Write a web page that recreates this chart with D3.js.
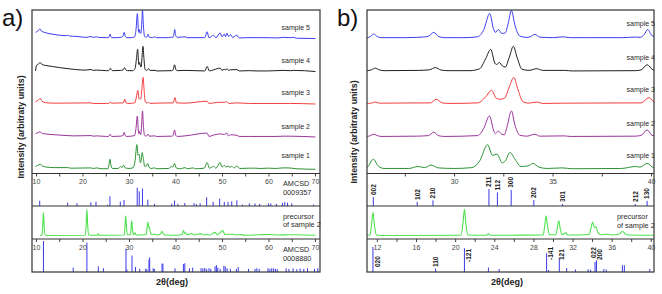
<!DOCTYPE html>
<html><head><meta charset="utf-8">
<script src="https://cdn.jsdelivr.net/npm/d3@7"></script>
<style>
body{margin:0;background:#fff}
svg{display:block}
text{font-family:"Liberation Sans",Arial,sans-serif}
</style>
</head><body>
<svg id="c" width="662" height="294"></svg>
<script>
// ---------------- DATA ----------------
const sampleNames = ["sample 1", "sample 2", "sample 3", "sample 4", "sample 5"];

// [2theta, intensity]
const sample1 = [[9.9,0.1],[10.4,0.14],[10.86,0.18],[11.4,0.12],[12.2,0.08],[14,0.06],[16.9,0.06],[17.5,0.04],[21.84,0.05],[22.3,0.03],[23.07,0.05],[24,0.02],
 [25.5,0.02],[25.65,0.12],[25.9,0.36],[26.15,0.12],[26.45,0.03],[27.7,0.03],[28.18,0.1],[28.5,0.06],[28.83,0.15],[29.2,0.05],[30.0,0.03],[30.9,0.06],[31.3,0.3],[31.7,0.88],[31.95,0.5],[32.18,0.54],[32.45,0.23],[32.6,0.3],[32.84,0.6],[33.1,0.35],[33.4,0.1],[33.75,0.12],[34.0,0.21],[34.3,0.08],[34.7,0.03],[35.5,0.05],[36.0,0.02],[38.5,0.03],[39.2,0.1],[39.45,0.08],[39.8,0.21],[40.15,0.05],
 [41,0.02],[42.05,0.06],[42.5,0.02],[43.8,0.05],[44.3,0.02],[46.2,0.04],[46.8,0.24],[47.3,0.04],[48.2,0.1],[48.7,0.04],[49.6,0.24],[50.0,0.08],[50.5,0.14],[50.9,0.08],[51.3,0.12],[51.7,0.07],[52.1,0.11],[52.6,0.05],[53.2,0.12],[53.8,0.03],[55.9,0.04],[57.2,0.04],[58.2,0.03],[60.0,0.04],[61.7,0.03],[63.0,0.05],[64.2,0.05],[65,0.04],[66,0.02],[70.1,0.0]];

const sample2 = [[9.9,0.12],[10.4,0.15],[10.86,0.19],[11.3,0.13],[12,0.11],[14,0.08],[16.9,0.05],[18,0.04],[21.84,0.05],[22.3,0.03],[23.07,0.04],[25.2,0.02],
 [25.6,0.02],[25.75,0.05],[25.92,0.1],[26.1,0.05],[26.3,0.02],[28.1,0.03],[28.7,0.05],[28.97,0.17],[29.2,0.05],[29.5,0.02],[31.2,0.05],[31.5,0.3],[31.8,0.75],[32.0,0.25],[32.1,0.12],[32.25,0.21],[32.42,0.1],[32.55,0.08],[32.7,0.4],[32.91,0.93],[33.1,0.4],[33.35,0.06],[33.7,0.03],[34.1,0.1],[34.35,0.03],[35.6,0.04],[35.9,0.02],[39.2,0.03],[39.5,0.06],[39.8,0.25],[40.05,0.06],[40.4,0.02],
 [42.05,0.04],[46.8,0.14],[47.2,0.02],[48.2,0.07],[49.6,0.11],[50.5,0.09],[51.05,0.14],[51.4,0.04],[51.8,0.08],[53.2,0.06],[53.7,0.02],[55.9,0.02],[61.8,0.02],[63.2,0.03],[64.4,0.03],[70.1,0.0]];

const sample3 = [[9.9,0.08],[10.5,0.14],[10.9,0.2],[11.3,0.1],[12,0.05],[14,0.03],[21.84,0.04],[22.3,0.02],[25.2,0.02],
 [25.6,0.02],[25.85,0.04],[26.0,0.07],[26.2,0.03],[28.8,0.04],[29.1,0.17],[29.4,0.04],[29.8,0.02],[31.2,0.04],[31.6,0.25],[31.9,0.49],[32.15,0.2],[32.35,0.17],[32.55,0.2],[32.8,0.6],[33.03,0.95],[33.25,0.5],[33.5,0.08],[33.8,0.03],[34.2,0.07],[34.5,0.02],[35.6,0.03],[39.5,0.04],[39.9,0.23],[40.2,0.04],
 [42.05,0.03],[46.8,0.1],[47.2,0.02],[48.2,0.04],[49.6,0.06],[50.5,0.06],[51.05,0.08],[51.5,0.02],[53.2,0.04],[55.9,0.02],[64.5,0.02],[70.1,0.0]];

const sample4 = [[9.9,0.02],[10.1,0.22],[10.5,0.26],[10.86,0.32],[11.3,0.25],[12,0.22],[13.5,0.18],[15,0.14],[16.9,0.1],[18.5,0.07],[20.5,0.05],[21.84,0.07],[22.3,0.04],[23.07,0.05],[25.2,0.03],
 [25.6,0.03],[25.8,0.06],[26.0,0.12],[26.2,0.06],[26.45,0.03],[28.2,0.04],[28.75,0.06],[29.05,0.14],[29.35,0.05],[29.7,0.03],[30.8,0.03],[31.3,0.1],[31.6,0.45],[31.86,0.79],[32.07,0.3],[32.15,0.25],[32.3,0.32],[32.45,0.2],[32.6,0.16],[32.8,0.5],[33.01,0.9],[33.2,0.5],[33.45,0.08],[33.8,0.04],[34.2,0.1],[34.5,0.04],[35.6,0.04],[36.0,0.02],[39.2,0.03],[39.5,0.06],[39.8,0.24],[40.1,0.06],[40.4,0.03],
 [42.05,0.04],[46.3,0.02],[46.8,0.18],[47.3,0.02],[48.2,0.06],[49.6,0.12],[50.0,0.04],[50.5,0.08],[50.8,0.05],[51.05,0.1],[51.4,0.04],[51.8,0.06],[53.2,0.07],[53.7,0.02],[55.9,0.03],[57.5,0.02],[60,0.02],[63.2,0.04],[64.7,0.03],[65.4,0.04],[70.1,0.0]];

const sample5 = [[9.9,0.22],[10.4,0.27],[10.86,0.34],[11.2,0.26],[11.8,0.22],[13,0.17],[14.5,0.13],[16.6,0.1],[16.9,0.12],[17.2,0.09],[19,0.07],[20.9,0.04],[21.84,0.07],[22.3,0.04],[23.07,0.06],[23.5,0.04],[25.2,0.03],
 [25.6,0.03],[25.75,0.07],[25.92,0.16],[26.1,0.07],[26.3,0.03],[27.5,0.03],[28.1,0.04],[28.4,0.05],[28.7,0.08],[28.97,0.22],[29.2,0.08],[29.5,0.03],[30.5,0.03],[31.2,0.06],[31.5,0.3],[31.81,0.89],[32.0,0.35],[32.1,0.22],[32.25,0.32],[32.42,0.18],[32.6,0.2],[32.75,0.55],[32.91,1.0],[33.1,0.45],[33.35,0.08],[33.7,0.04],[33.9,0.07],[34.1,0.15],[34.35,0.05],[35.0,0.03],[35.55,0.06],[35.9,0.03],[37,0.03],[38.5,0.03],[39.2,0.05],[39.45,0.04],[39.65,0.14],[39.83,0.32],[40.05,0.1],[40.4,0.04],
 [42.08,0.06],[42.5,0.03],[46.3,0.03],[46.8,0.24],[47.2,0.03],[48.2,0.11],[48.7,0.03],[49.6,0.2],[50.0,0.06],[50.5,0.16],[50.75,0.07],[51.05,0.19],[51.4,0.07],[51.8,0.14],[52.3,0.04],[53.2,0.12],[53.7,0.02],[55.4,0.03],[57.5,0.03],[59.7,0.03],[61.8,0.02],[63.2,0.04],[64.7,0.03],[65.4,0.04],[66,0.01],[70.1,0.0]];

const precursor = [[10.9,0.0],[11.3,0.02],[11.45,0.4],[11.6,0.87],[11.75,0.4],[11.95,0.02],[13,0.0],[20.6,0.01],[20.8,0.45],[20.95,1.0],[21.1,0.45],[21.3,0.02],[23.2,0.01],[23.4,0.06],[23.6,0.01],[29.0,0.02],[29.15,0.35],[29.3,0.75],[29.45,0.35],[29.65,0.03],[30.3,0.03],[30.45,0.3],[30.6,0.56],[30.75,0.25],[30.95,0.03],[31.3,0.1],[31.5,0.02],[33.7,0.04],[33.9,0.3],[34.05,0.51],[34.25,0.3],[34.4,0.33],[34.6,0.1],[34.9,0.03],[35.5,0.05],[36,0.02],[36.8,0.06],[37.1,0.16],[37.4,0.06],[37.8,0.02],[40.3,0.01],
 [41.5,0.05],[41.7,0.19],[42.0,0.08],[42.2,0.1],[42.5,0.03],[43.5,0.07],[44,0.02],[45.5,0.07],[46,0.02],[46.8,0.04],[47.5,0.02],[48.5,0.12],[49,0.03],[50.2,0.19],[50.6,0.04],[52.5,0.05],[53,0.02],[53.9,0.04],[55,0.01],[58,0.03],[60.6,0.04],[62,0.02],[64.5,0.03],[66,0.03],[70.1,0.01]];

// AMCSD 0009357 reference sticks [2theta, relative intensity %]
const hapSticks = [[10.8,29],[16.8,18],[18.8,15],[21.8,20],[22.9,24],[25.4,7],[25.9,53],[28.13,24],[28.93,33],[31.77,100],[32.2,80],[32.9,95],[34.05,35],[35.5,12],[39.2,12],[39.8,30],[40.5,12],[42.0,16],[44.0,16],[44.5,10],[45.3,15],[46.7,48],[48.1,22],[49.5,40],[50.5,22],[51.3,22],[52.1,26],[53.2,31],[54.4,8],[55.9,14],[57.1,14],[58.1,11],[60.0,14],[60.5,14],[61.7,11],[63.0,16],[63.5,22],[64.1,18],[65.0,14],[69.7,8]];
const hapHkl = [["002",25.9],["102",28.13],["210",28.93],["211",31.77],["112",32.2],["300",32.9],["202",34.05],["301",35.5],["212",39.2],["130",39.8]];

// AMCSD 0008880 reference sticks
const brushSticks = [[11.6,100],[18.0,14],[20.95,95],[23.4,18],[24.5,12],[29.35,75],[29.55,8],[30.65,53],[31.4,16],[32.3,10],[33.6,11],[33.85,9],[34.3,40],[34.45,47],[35.2,12],[35.45,10],[37.1,27],[37.3,27],[39.9,12],[41.7,26],[42.0,28],[43.0,12],[43.7,14],[45.5,12],[45.9,12],[46.3,13],[46.7,10],[47.2,12],[47.6,10],[48.5,18],[48.8,22],[49.1,14],[49.6,10],[50.4,20],[50.7,18],[51.1,12],[51.8,10],[53.1,10],[53.5,16],[55.7,10],[57.1,10],[57.5,12],[58.0,10],[59.9,12],[60.3,10],[60.7,12],[61.1,12],[61.5,10],[61.9,9],[63.8,12],[64.4,10],[65.3,12],[66.1,9],[66.8,11],[67.6,10],[68.4,12],[69.9,10],[70.6,12]];
const brushHkl = [["020",11.6],["110",18.0],["-121",20.95],["-141",29.35],["121",30.65],["022",34.3],["200",34.45]];

const ticksA = [10,15,20,25,30,35,40,45,50,55,60,65,70];
const ticksBtop = [27.5,30,32.5,35,37.5,40];
const ticksBbot = [12,14,16,18,20,22,24,26,28,30,32,34,36,38,40];

// ---------------- LAYOUT ----------------
const svg = d3.select("#c");
const colors = ["#2b9332", "#9a339a", "#f23d3d", "#1e1e1e", "#3c3cf2"];
const precColor = "#4fe24f", stickColor = "#3a3ae6", frameColor = "#333";
const rows = {top: 10, s: 173.5, h: 206, p: 239, bot: 272};
const baselines = [169.3, 137, 104, 71.5, 38.5];
const bandH = 28;

function drawPanel(opt) {
  const g = svg.append("g");
  const {x0, x1} = opt;
  const xs = d3.scaleLinear().domain(opt.domS).range([x0, x1]);
  const xp = d3.scaleLinear().domain(opt.domP).range([x0, x1]);
  const id = "clip" + opt.key;
  const defs = svg.append("defs");
  defs.append("clipPath").attr("id", id + "s").append("rect").attr("x", x0).attr("y", rows.top).attr("width", x1 - x0).attr("height", rows.s - rows.top);
  defs.append("clipPath").attr("id", id + "p").append("rect").attr("x", x0).attr("y", rows.h).attr("width", x1 - x0).attr("height", rows.p - rows.h);
  defs.append("clipPath").attr("id", id + "h").append("rect").attr("x", x0).attr("y", rows.s).attr("width", x1 - x0).attr("height", rows.h - rows.s);
  defs.append("clipPath").attr("id", id + "b").append("rect").attr("x", x0).attr("y", rows.p).attr("width", x1 - x0).attr("height", rows.bot - rows.p);

  // samples
  const samples = [sample1, sample2, sample3, sample4, sample5];
  const gs = g.append("g").attr("clip-path", `url(#${id}s)`);
  samples.forEach((d, i) => {
    const y = d3.scaleLinear().domain([0, 1]).range([baselines[i], baselines[i] - bandH]);
    const line = d3.line().x(p => xs(p[0])).y(p => y(p[1])).curve(d3.curveMonotoneX);
    gs.append("path").attr("d", line(d)).attr("fill", "none").attr("stroke", colors[i]).attr("stroke-width", 1);
  });
  sampleNames.forEach((n, i) => {
    g.append("text").attr("x", opt.labX).attr("y", opt.labY[i]).attr("dy", "0.35em")
      .attr("text-anchor", "end").attr("font-size", 7).attr("fill", "#2a2a2a").text(n);
  });

  // hap sticks
  const yh = d3.scaleLinear().domain([0, 100]).range([rows.h, rows.h - opt.hapH]);
  const gh = g.append("g").attr("clip-path", `url(#${id}h)`);
  gh.selectAll("line").data(hapSticks).join("line")
    .attr("x1", d => xs(d[0])).attr("x2", d => xs(d[0]))
    .attr("y1", rows.h).attr("y2", d => yh(d[1]))
    .attr("stroke", stickColor).attr("stroke-width", 1);

  // precursor
  const yp = d3.scaleLinear().domain([0, 1]).range([235.5, 209.2]);
  const lp = d3.line().x(p => xp(p[0])).y(p => yp(p[1])).curve(d3.curveMonotoneX);
  g.append("g").attr("clip-path", `url(#${id}p)`).append("path").attr("d", lp(precursor))
    .attr("fill", "none").attr("stroke", precColor).attr("stroke-width", 1.1);

  // brushite sticks
  const yb = d3.scaleLinear().domain([0, 100]).range([rows.bot, rows.bot - opt.brH]);
  g.append("g").attr("clip-path", `url(#${id}b)`).selectAll("line").data(brushSticks).join("line")
    .attr("x1", d => xp(d[0])).attr("x2", d => xp(d[0]))
    .attr("y1", rows.bot).attr("y2", d => yb(d[1]))
    .attr("stroke", stickColor).attr("stroke-width", 1);

  // axes (inward ticks at top of stick panels)
  const ax1 = d3.axisBottom(xs).tickValues(opt.ticksS).tickSize(3).tickPadding(3)
    .tickFormat(v => opt.labS(v) ? d3.format("~g")(v) : "");
  const ga1 = g.append("g").attr("transform", `translate(0,${rows.s})`).call(ax1);
  const ax2 = d3.axisBottom(xp).tickValues(opt.ticksP).tickSize(3).tickPadding(3)
    .tickFormat(v => opt.labP(v) ? d3.format("~g")(v) : "");
  const ga2 = g.append("g").attr("transform", `translate(0,${rows.p})`).call(ax2);
  [ga1, ga2].forEach(a => {
    a.select(".domain").remove();
    a.selectAll("line").attr("stroke", "#444");
    a.selectAll("text").attr("font-size", 7).attr("fill", "#444").attr("font-family", '"Liberation Sans",Arial,sans-serif');
  });

  // frame + separators
  g.append("rect").attr("x", x0).attr("y", rows.top).attr("width", x1 - x0).attr("height", rows.bot - rows.top)
    .attr("fill", "none").attr("stroke", frameColor).attr("stroke-width", 1.2);
  [rows.s, rows.h, rows.p].forEach(yy => g.append("line").attr("x1", x0).attr("x2", x1).attr("y1", yy).attr("y2", yy)
    .attr("stroke", frameColor).attr("stroke-width", 1.2));

  // titles
  g.append("text").attr("transform", `translate(${opt.yTitleX},${opt.yTitleY}) rotate(-90)`)
    .attr("text-anchor", "middle").attr("dy", "0.35em").attr("font-size", 8.8).attr("font-weight", "bold").attr("fill", "#222")
    .text("Intensity (arbitraty units)");
  g.append("text").attr("x", opt.xTitleX).attr("y", 282).attr("dy", "0.35em").attr("text-anchor", "middle")
    .attr("font-size", 9).attr("font-weight", "bold").attr("fill", "#222").text("2\u03B8(deg)");
  g.append("text").attr("x", opt.letterX).attr("y", 26).attr("font-size", 24).attr("fill", "#111")
    .attr("font-family", '"Open Sans",Lato,sans-serif').text(opt.letter);

  return {g, xs, xp, yh, yb};
}

// Panel a
const A = drawPanel({
  key: "a", x0: 32, x1: 320, domS: [9.14, 71.08], domP: [9.14, 71.08],
  ticksS: ticksA, ticksP: ticksA, labS: v => v % 10 === 0, labP: v => v % 10 === 0,
  hapH: 18.3, brH: 31, labX: 310, labY: [156, 126.5, 92.5, 61, 27.5],
  yTitleX: 21, yTitleY: 127, xTitleX: 172, letter: "a)", letterX: 2
});
[["AMCSD", 183.5], ["0009357", 192.5], ["precursor", 216.5], ["of sample 2", 224.8], ["AMCSD", 249.5], ["0008880", 258.5]]
  .forEach(([t, y]) => A.g.append("text").attr("x", 283).attr("y", y).attr("dy", "0.35em").attr("font-size", 7.3).attr("fill", "#2a2a2a").text(t));

// Panel b
const B = drawPanel({
  key: "b", x0: 367, x1: 654, domS: [25.58, 40.15], domP: [10.99, 40.33],
  ticksS: ticksBtop, ticksP: ticksBbot, labS: v => v % 5 === 0, labP: v => v % 4 === 0,
  hapH: 17, brH: 25, labX: 655, labY: [155.5, 123.5, 90, 57.5, 23.5],
  yTitleX: 354, yTitleY: 132, xTitleX: 507, letter: "b)", letterX: 337
});
[["precursor", 216.7], ["of sample 2", 225.3]]
  .forEach(([t, y]) => B.g.append("text").attr("x", 617).attr("y", y).attr("dy", "0.35em").attr("font-size", 7.3).attr("fill", "#2a2a2a").text(t));

// hkl labels (panel b)
hapHkl.forEach(([lab, t]) => {
  const st = hapSticks.find(s => s[0] === t);
  B.g.append("text").attr("transform", `translate(${B.xs(t)},${B.yh(st[1]) - 2}) rotate(-90)`)
    .attr("dy", "0.35em").attr("font-size", 6.5).attr("font-weight", "bold").attr("fill", "#222").text(lab);
});
const brushLabelPos = {"020": [5, 267], "110": [0, 267], "-121": [4, 262], "-141": [4, 260], "121": [2, 260], "022": [-1.5, 258], "200": [3, 260]};
brushHkl.forEach(([lab, t]) => {
  const [dx, yb] = brushLabelPos[lab];
  B.g.append("text").attr("transform", `translate(${B.xp(t) + dx},${yb}) rotate(-90)`)
    .attr("dy", "0.35em").attr("font-size", 6.5).attr("font-weight", "bold").attr("fill", "#222").text(lab);
});
</script>
</body></html>
